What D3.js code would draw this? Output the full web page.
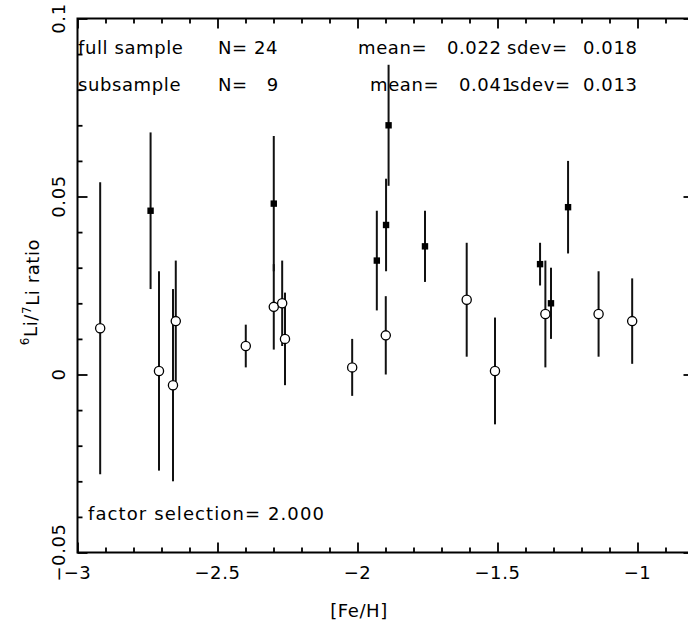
<!DOCTYPE html>
<html>
<head>
<meta charset="utf-8">
<script src="https://cdn.jsdelivr.net/npm/d3@7"></script>
<style>
  body { margin: 0; background: #fff; overflow: hidden; }
  text { font-family: "DejaVu Sans", sans-serif; fill: #000; letter-spacing: 0.6px; }
</style>
</head>
<body>
<div id="chart"></div>
<script>
// Open circles: whole sample minus the selected stars
var openFeH   = [-2.919, -2.709, -2.659, -2.649, -2.399, -2.299, -2.269, -2.259, -2.019, -1.899, -1.610, -1.509, -1.329, -1.139, -1.019];
var openRatio = [0.013, 0.001, -0.003, 0.015, 0.008, 0.019, 0.020, 0.010, 0.002, 0.011, 0.021, 0.001, 0.017, 0.017, 0.015];
var openErr   = [0.041, 0.028, 0.027, 0.017, 0.006, 0.012, 0.012, 0.013, 0.008, 0.011, 0.016, 0.015, 0.015, 0.012, 0.012];

// Filled squares: subsample (factor selection)
var subFeH   = [-2.739, -2.299, -1.931, -1.889, -1.898, -1.759, -1.348, -1.309, -1.248];
var subRatio = [0.046, 0.048, 0.032, 0.070, 0.042, 0.036, 0.031, 0.020, 0.047];
var subErr   = [0.022, 0.019, 0.014, 0.017, 0.013, 0.010, 0.006, 0.010, 0.013];

var xMajor = [-3, -2.5, -2, -1.5, -1];
var xLabels = ["\u22123", "\u22122.5", "\u22122", "\u22121.5", "\u22121"];
var xMinor = [-2.9, -2.8, -2.7, -2.6, -2.4, -2.3, -2.2, -2.1, -1.9, -1.8, -1.7, -1.6, -1.4, -1.3, -1.2, -1.1, -0.9];
var yMajor = [-0.05, 0, 0.05, 0.1];
var yLabels = ["\u22120.05", "0", "0.05", "0.1"];
var yMinor = [-0.04, -0.03, -0.02, -0.01, 0.01, 0.02, 0.03, 0.04, 0.06, 0.07, 0.08, 0.09];

var statRows = [
  ["full sample", "N= 24", "mean=", "0.022", "sdev=", "0.018"],
  ["subsample", "N=   9", "mean=", "0.041", "sdev=", "0.013"]
];

var W = 688, H = 628;
var padL = 77.5, padR = 693.5, padT = 18.5, padB = 552.5;

var svg = d3.select("#chart")
    .append("svg")
    .attr("width", W)
    .attr("height", H);

var x = d3.scaleLinear().domain([-3, -0.8]).range([padL, padR]);
var y = d3.scaleLinear().domain([-0.05, 0.1]).range([padB, padT]);

// ticks on all four sides, pointing inward
function ticks(axisFn, vals, size, tx, ty) {
    var g = svg.append("g")
        .attr("transform", "translate(" + tx + "," + ty + ")")
        .call(axisFn.tickValues(vals).tickSize(size).tickSizeOuter(0).tickFormat(""));
    g.select(".domain").remove();
    g.selectAll("line").attr("stroke", "#000").attr("stroke-width", 1.8);
    return g;
}
ticks(d3.axisBottom(x), xMajor, -10, 0, padB);
ticks(d3.axisBottom(x), xMinor, -5, 0, padB);
ticks(d3.axisTop(x), xMajor, -10, 0, padT);
ticks(d3.axisTop(x), xMinor, -5, 0, padT);
ticks(d3.axisLeft(y), yMajor, -10, padL, 0);
ticks(d3.axisLeft(y), yMinor, -5, padL, 0);
ticks(d3.axisRight(y), yMajor, -10, padR, 0);
ticks(d3.axisRight(y), yMinor, -5, padR, 0);

// frame
svg.append("rect")
    .attr("x", x(-3)).attr("y", y(0.1))
    .attr("width", x(-0.8) - x(-3)).attr("height", y(-0.05) - y(0.1))
    .attr("fill", "none").attr("stroke", "#000").attr("stroke-width", 2);

// tick labels
svg.selectAll(".xl")
    .data(xMajor)
    .enter().append("text")
    .attr("x", function(d) { return x(d); })
    .attr("y", padB + 26)
    .attr("text-anchor", "middle")
    .style("font-size", "18px")
    .text(function(d, i) { return xLabels[i]; });

svg.selectAll(".yl")
    .data(yMajor)
    .enter().append("text")
    .attr("transform", function(d) { return "translate(" + (padL - 12.5) + "," + y(d) + ") rotate(-90)"; })
    .attr("text-anchor", "middle")
    .style("font-size", "18px")
    .text(function(d, i) { return yLabels[i]; });

// axis titles
svg.append("text")
    .attr("x", x(-2) + 1.5)
    .attr("y", 617)
    .attr("text-anchor", "middle")
    .style("font-size", "18px")
    .text("[Fe/H]");

var yt = svg.append("text")
    .attr("transform", "translate(34,292) rotate(-90)")
    .attr("text-anchor", "middle")
    .style("font-size", "18px");
yt.append("tspan").attr("dy", "-0.45em").style("font-size", "12px").text("6");
yt.append("tspan").attr("dy", "0.45em").text("Li/");
yt.append("tspan").attr("dy", "-0.45em").style("font-size", "12px").text("7");
yt.append("tspan").attr("dy", "0.45em").text("Li ratio");

// annotation text
var colX = [[78, 218, 358, 447, 507, 583], [78, 218, 370, 459, 510, 583]];
var rowY = [54, 91];
statRows.forEach(function(row, r) {
    row.forEach(function(s, c) {
        svg.append("text")
            .attr("x", colX[r][c])
            .attr("y", rowY[r])
            .style("font-size", "18px")
            .style("white-space", "pre")
            .text(s);
    });
});
svg.append("text")
    .attr("x", 88)
    .attr("y", 520)
    .style("font-size", "18px")
    .style("letter-spacing", "1.1px")
    .text("factor selection= 2.000");

// error bars
function bars(fx, fy, fe) {
    svg.append("g").selectAll("line")
        .data(fx)
        .enter().append("line")
        .attr("x1", function(d) { return x(d); })
        .attr("x2", function(d) { return x(d); })
        .attr("y1", function(d, i) { return y(fy[i] - fe[i]); })
        .attr("y2", function(d, i) { return y(fy[i] + fe[i]); })
        .attr("stroke", "#111")
        .attr("stroke-width", 2);
}
bars(openFeH, openRatio, openErr);
bars(subFeH, subRatio, subErr);

// open circles
svg.append("g").selectAll("circle")
    .data(openFeH)
    .enter().append("circle")
    .attr("cx", function(d) { return x(d); })
    .attr("cy", function(d, i) { return y(openRatio[i]); })
    .attr("r", 4.6)
    .attr("fill", "#fff")
    .attr("stroke", "#000")
    .attr("stroke-width", 1.3);

// filled squares
svg.append("g").selectAll("rect")
    .data(subFeH)
    .enter().append("rect")
    .attr("x", function(d) { return x(d) - 3.2; })
    .attr("y", function(d, i) { return y(subRatio[i]) - 3.2; })
    .attr("width", 6.4)
    .attr("height", 6.4)
    .attr("fill", "#000");
</script>
</body>
</html>
